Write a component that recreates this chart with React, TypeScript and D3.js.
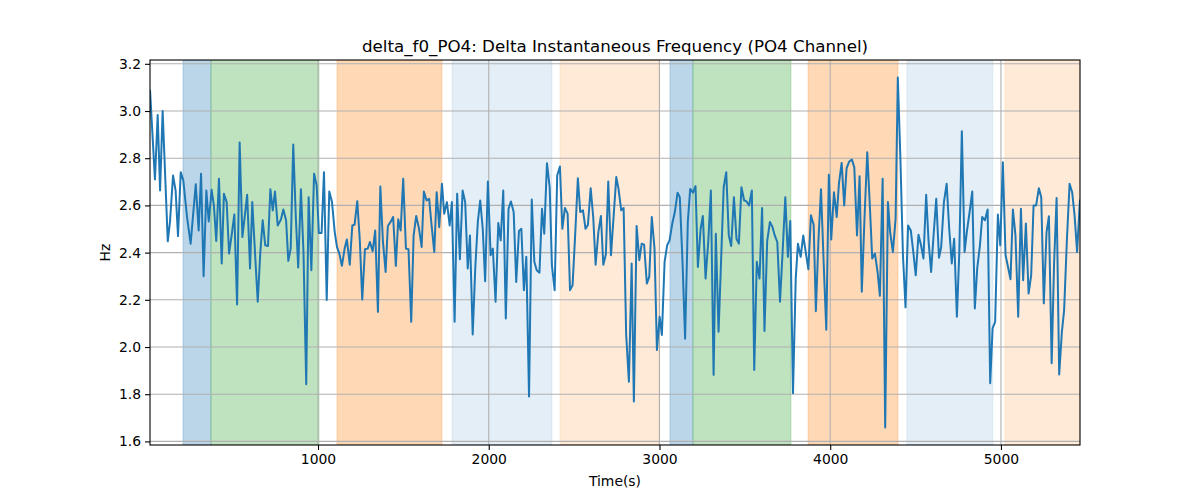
import React, { useRef, useEffect } from 'react';
import * as d3 from 'd3';

// Time stamps (s) of the line vertices and their values (Hz)
const times = [
  16, 45, 61, 75, 90, 120, 133, 151, 166, 180, 196, 211, 233, 254, 284, 301, 315, 330, 346, 360,
  377, 390, 404, 420, 436, 449, 465, 479, 494, 510, 526, 541, 557, 572, 585, 602, 615, 631, 647, 662,
  676, 691, 707, 721, 735, 748, 764, 783, 797, 813, 826, 840, 855, 870, 884, 900, 915, 931, 945,
  961, 977, 992, 1005, 1021, 1035, 1051, 1066, 1082, 1098, 1111, 1125, 1140, 1156, 1169, 1186, 1201, 1214, 1230, 1245,
  1259, 1275, 1291, 1304, 1320, 1335, 1351, 1365, 1380, 1396, 1409, 1425, 1440, 1456, 1470, 1484, 1499, 1515, 1530,
  1546, 1560, 1575, 1591, 1607, 1620, 1636, 1651, 1666, 1681, 1695, 1710, 1726, 1739, 1755, 1771, 1784, 1800, 1815,
  1831, 1847, 1862, 1877, 1890, 1906, 1921, 1936, 1950, 1965, 1979, 1995, 2011, 2024, 2040, 2056, 2070, 2085, 2100,
  2116, 2130, 2146, 2161, 2177, 2191, 2206, 2220, 2236, 2252, 2267, 2281, 2297, 2312, 2325, 2341, 2357, 2370, 2386,
  2401, 2417, 2431, 2446, 2462, 2476, 2491, 2507, 2522, 2536, 2552, 2567, 2581, 2597, 2612, 2626, 2642, 2657, 2671,
  2686, 2700, 2716, 2731, 2747, 2760, 2776, 2790, 2805, 2821, 2837, 2850, 2866, 2882, 2896, 2910, 2926, 2940, 2955,
  2971, 2985, 3001, 3014, 3030, 3045, 3059, 3075, 3090, 3106, 3119, 3135, 3150, 3166, 3180, 3196, 3211, 3225, 3241,
  3254, 3270, 3286, 3301, 3317, 3330, 3346, 3361, 3376, 3391, 3406, 3420, 3436, 3451, 3465, 3480, 3496, 3509, 3525,
  3541, 3555, 3570, 3586, 3601, 3615, 3631, 3647, 3662, 3675, 3690, 3706, 3721, 3737, 3752, 3766, 3782, 3798, 3811,
  3827, 3842, 3857, 3872, 3887, 3903, 3916, 3931, 3946, 3962, 3977, 3992, 4006, 4022, 4038, 4051, 4067, 4082, 4096,
  4111, 4127, 4141, 4157, 4172, 4185, 4201, 4217, 4232, 4246, 4262, 4277, 4291, 4307, 4322, 4338, 4351, 4367, 4383,
  4396, 4411, 4426, 4441, 4456, 4472, 4487, 4501, 4517, 4532, 4546, 4562, 4576, 4591, 4606, 4621, 4637, 4650, 4666,
  4682, 4697, 4712, 4726, 4742, 4756, 4771, 4787, 4800, 4816, 4832, 4847, 4861, 4877, 4890, 4906, 4922, 4937, 4951,
  4966, 4982, 4996, 5011, 5027, 5041, 5056, 5070, 5085, 5101, 5117, 5130, 5146, 5162, 5177, 5191, 5206, 5222, 5236,
  5251, 5267, 5281, 5297, 5311, 5326, 5341, 5357, 5370, 5386, 5402, 5417, 5431, 5446, 5463,
];

const values = [
  3.09, 2.71, 2.983, 2.663, 3.0, 2.448, 2.53, 2.727, 2.663, 2.47, 2.741, 2.706, 2.55, 2.438, 2.69, 2.494, 2.734, 2.3, 2.663, 2.532,
  2.666, 2.6, 2.449, 2.713, 2.354, 2.649, 2.614, 2.396, 2.473, 2.562, 2.18, 2.867, 2.466, 2.56, 2.645, 2.333, 2.614, 2.4, 2.192, 2.4,
  2.537, 2.431, 2.428, 2.668, 2.579, 2.659, 2.515, 2.54, 2.583, 2.537, 2.365, 2.417, 2.858, 2.55, 2.337, 2.668, 2.4, 1.842, 2.635,
  2.325, 2.734, 2.685, 2.483, 2.483, 2.741, 2.199, 2.659, 2.614, 2.487, 2.424, 2.396, 2.344, 2.417, 2.456, 2.349, 2.515, 2.518, 2.618, 2.45,
  2.201, 2.414, 2.417, 2.445, 2.406, 2.494, 2.149, 2.68, 2.45, 2.318, 2.513, 2.53, 2.551, 2.344, 2.541, 2.494, 2.713, 2.417, 2.414,
  2.107, 2.473, 2.555, 2.504, 2.424, 2.659, 2.621, 2.628, 2.51, 2.403, 2.656, 2.508, 2.692, 2.565, 2.614, 2.515, 2.614, 2.107, 2.649,
  2.372, 2.663, 2.614, 2.333, 2.473, 2.053, 2.333, 2.53, 2.621, 2.5, 2.279, 2.701, 2.389, 2.417, 2.192, 2.525, 2.452, 2.663, 2.121,
  2.586, 2.617, 2.572, 2.276, 2.492, 2.501, 2.241, 2.382, 1.79, 2.625, 2.361, 2.325, 2.315, 2.586, 2.48, 2.779, 2.677, 2.346, 2.241,
  2.727, 2.765, 2.501, 2.589, 2.565, 2.241, 2.262, 2.487, 2.715, 2.572, 2.579, 2.501, 2.518, 2.673, 2.55, 2.349, 2.487, 2.555, 2.349,
  2.392, 2.701, 2.389, 2.55, 2.72, 2.67, 2.579, 2.589, 2.051, 1.853, 2.354, 1.769, 2.513, 2.368, 2.438, 2.434, 2.269, 2.297, 2.551,
  2.417, 1.987, 2.128, 2.051, 2.361, 2.431, 2.452, 2.523, 2.572, 2.654, 2.635, 2.36, 2.035, 2.53, 2.67, 2.654, 2.682, 2.339, 2.501,
  2.555, 2.29, 2.45, 2.663, 1.882, 2.48, 2.065, 2.37, 2.677, 2.741, 2.473, 2.428, 2.635, 2.459, 2.438, 2.677, 2.621, 2.618, 2.6,
  2.663, 1.903, 2.361, 2.29, 2.589, 2.068, 2.45, 2.53, 2.508, 2.473, 2.445, 2.192, 2.4, 2.635, 2.382, 2.534, 1.804, 2.29, 2.438,
  2.382, 2.473, 2.4, 2.33, 2.558, 2.518, 2.152, 2.45, 2.668, 2.35, 2.073, 2.73, 2.456, 2.656, 2.551, 2.692, 2.78, 2.6, 2.758,
  2.786, 2.794, 2.762, 2.473, 2.724, 2.234, 2.55, 2.825, 2.6, 2.375, 2.396, 2.32, 2.217, 2.713, 1.659, 2.614, 2.487, 2.403, 2.544,
  3.142, 2.8, 2.389, 2.168, 2.515, 2.494, 2.4, 2.304, 2.476, 2.431, 2.375, 2.645, 2.45, 2.318, 2.48, 2.628, 2.378, 2.424, 2.614,
  2.692, 2.5, 2.354, 2.459, 2.128, 2.4, 2.914, 2.403, 2.487, 2.57, 2.659, 2.163, 2.333, 2.431, 2.551, 2.537, 2.583, 1.847, 2.079,
  2.107, 2.561, 2.431, 2.783, 2.389, 2.34, 2.287, 2.583, 2.473, 2.128, 2.586, 2.283, 2.523, 2.227, 2.304, 2.6, 2.6, 2.673, 2.635,
  2.185, 2.487, 2.554, 1.931, 2.35, 2.631, 1.884, 2.065, 2.156, 2.45, 2.692, 2.656, 2.56, 2.403, 2.625,
];

// Shaded segments: start, end (s) and colour / opacity
const bandStart = [209, 373, 1111, 1785, 2417, 3061, 3196, 3870, 4449, 5023];
const bandEnd = [373, 1006, 1726, 2370, 2997, 3196, 3770, 4397, 4953, 5463];
const bandColor = ['#1f77b4', '#2ca02c', '#ff7f0e', '#1f77b4', '#ff7f0e', '#1f77b4', '#2ca02c', '#ff7f0e', '#1f77b4', '#ff7f0e'];
const bandAlpha = [0.3, 0.3, 0.3, 0.12, 0.16, 0.3, 0.3, 0.3, 0.12, 0.16];

const xTicks = [1000, 2000, 3000, 4000, 5000];
const yTicks = [1.6, 1.8, 2.0, 2.2, 2.4, 2.6, 2.8, 3.0, 3.2];

const Chart: React.FC = () => {
  const svgRef = useRef<SVGSVGElement | null>(null);

  useEffect(() => {
    if (!svgRef.current) return;
    const width = 1200;
    const height = 500;
    const margin = { top: 60, right: 120, bottom: 55, left: 150 };
    const font = 'DejaVu Sans, sans-serif';

    const [vMin, vMax] = d3.extent(values) as [number, number];
    const pad = (vMax - vMin) * 0.05;

    const x = d3
      .scaleLinear()
      .domain([times[0], times[times.length - 1]])
      .range([margin.left, width - margin.right]);
    const y = d3
      .scaleLinear()
      .domain([vMin - pad, vMax + pad])
      .range([height - margin.bottom, margin.top]);

    const svg = d3.select(svgRef.current);
    svg.selectAll('*').remove();

    svg.append('clipPath').attr('id', 'plot-clip')
      .append('rect')
      .attr('x', margin.left).attr('y', margin.top)
      .attr('width', width - margin.left - margin.right)
      .attr('height', height - margin.top - margin.bottom);

    // bands
    svg.append('g')
      .attr('clip-path', 'url(#plot-clip)')
      .selectAll('rect')
      .data(bandStart)
      .join('rect')
      .attr('x', (d) => x(d))
      .attr('y', margin.top)
      .attr('width', (d, i) => x(bandEnd[i]) - x(d))
      .attr('height', height - margin.top - margin.bottom)
      .attr('fill', (d, i) => bandColor[i])
      .attr('fill-opacity', (d, i) => bandAlpha[i])
      .attr('stroke', (d, i) => bandColor[i])
      .attr('stroke-opacity', (d, i) => bandAlpha[i] * 0.8)
      .attr('stroke-width', 1);

    // grid
    const grid = svg.append('g').attr('stroke', '#b0b0b0').attr('stroke-width', 1.1);
    grid.selectAll('.gx').data(xTicks).join('line')
      .attr('x1', (d) => x(d)).attr('x2', (d) => x(d))
      .attr('y1', margin.top).attr('y2', height - margin.bottom);
    grid.selectAll('.gy').data(yTicks).join('line')
      .attr('x1', margin.left).attr('x2', width - margin.right)
      .attr('y1', (d) => y(d)).attr('y2', (d) => y(d));

    // line
    const line = d3.line<number>()
      .x((d, i) => x(times[i]))
      .y((d) => y(d));
    svg.append('path')
      .datum(values)
      .attr('clip-path', 'url(#plot-clip)')
      .attr('fill', 'none')
      .attr('stroke', '#1f77b4')
      .attr('stroke-width', 2)
      .attr('stroke-linejoin', 'round')
      .attr('d', line);

    // axes
    const xAxis = svg.append('g')
      .attr('transform', `translate(0,${height - margin.bottom})`)
      .call(d3.axisBottom(x).tickValues(xTicks).tickSize(5).tickPadding(4).tickFormat(d3.format('d')));
    const yAxis = svg.append('g')
      .attr('transform', `translate(${margin.left},0)`)
      .call(d3.axisLeft(y).tickValues(yTicks).tickSize(5).tickPadding(4).tickFormat(d3.format('.1f')));
    [xAxis, yAxis].forEach((g) => {
      g.select('.domain').remove();
      g.selectAll('text').attr('font-family', font).attr('font-size', 13.9).attr('fill', '#000');
      g.selectAll('line').attr('stroke', '#000').attr('stroke-width', 1.1);
    });

    // frame
    svg.append('rect')
      .attr('x', margin.left).attr('y', margin.top)
      .attr('width', width - margin.left - margin.right)
      .attr('height', height - margin.top - margin.bottom)
      .attr('fill', 'none').attr('stroke', '#000').attr('stroke-width', 1.1);

    // labels
    svg.append('text')
      .attr('x', (margin.left + width - margin.right) / 2).attr('y', 52)
      .attr('text-anchor', 'middle').attr('font-family', font).attr('font-size', 16.7)
      .text('delta_f0_PO4: Delta Instantaneous Frequency (PO4 Channel)');
    svg.append('text')
      .attr('x', (margin.left + width - margin.right) / 2).attr('y', 486)
      .attr('text-anchor', 'middle').attr('font-family', font).attr('font-size', 13.9)
      .text('Time(s)');
    svg.append('text')
      .attr('transform', `translate(110,${(margin.top + height - margin.bottom) / 2}) rotate(-90)`)
      .attr('text-anchor', 'middle').attr('font-family', font).attr('font-size', 13.9)
      .text('Hz');
  }, []);

  return (
    <svg
      ref={svgRef}
      width={1200}
      height={500}
      style={{ position: 'absolute', left: 0, top: 0, display: 'block', background: '#fff' }}
    />
  );
};

export default function App() {
  return <Chart />;
}
